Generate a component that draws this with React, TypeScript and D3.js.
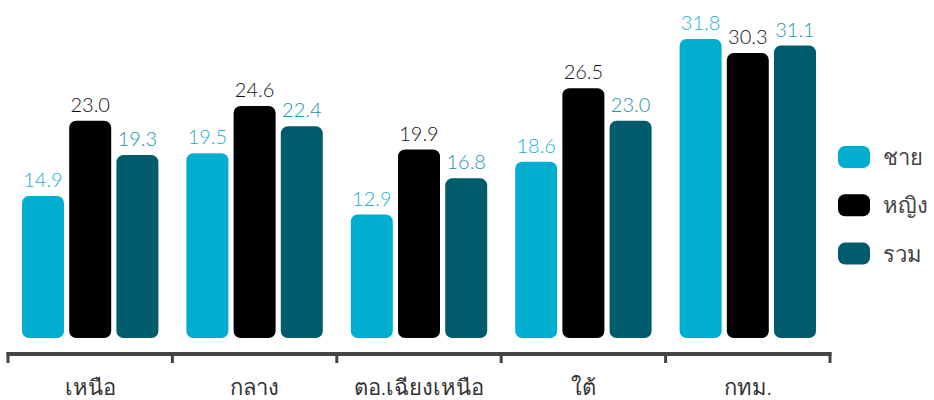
import React from "react";
import * as d3 from "d3";

const categories = ["เหนือ", "กลาง", "ตอ.เฉียงเหนือ", "ใต้", "กทม."];
const seriesNames = ["ชาย", "หญิง", "รวม"];
const male = [14.9, 19.5, 12.9, 18.6, 31.8];
const female = [23.0, 24.6, 19.9, 26.5, 30.3];
const total = [19.3, 22.4, 16.8, 23.0, 31.1];
const seriesValues = [male, female, total];
const barColors = ["#00AECF", "#000000", "#005B6C"];
const labelColors = ["#1AAFD2", "#111111", "#2295A8"];

const W = 934;
const H = 400;

export default function App() {
  const x = d3.scaleBand<string>().domain(categories).range([8, 830]).padding(0);
  const inner = d3
    .scaleBand<string>()
    .domain(seriesNames)
    .range([14, x.bandwidth() - 14])
    .paddingInner(0.11)
    .paddingOuter(0);
  const y = d3.scaleLinear().domain([0, 36]).range([334.4, 0]);
  const barBottom = 338;
  const valueFont = "'Lato', 'Noto Sans', sans-serif";
  const thaiFont = "'Noto Sans', 'DejaVu Sans', sans-serif";
  const ticks = [...categories.map((c) => x(c)!), x.range()[1]];

  return (
    <svg
      width={W}
      height={H}
      style={{ position: "absolute", left: 0, top: 0, background: "#fff" }}
    >
      {categories.map((c, ci) => (
        <g key={c} transform={`translate(${x(c)},0)`}>
          {seriesNames.map((s, si) => {
            const v = seriesValues[si][ci];
            const bx = inner(s)!;
            const top = y(v);
            return (
              <g key={s}>
                <rect
                  x={bx}
                  y={top}
                  width={inner.bandwidth()}
                  height={barBottom - top}
                  rx={7}
                  ry={7}
                  fill={barColors[si]}
                />
                <text
                  x={bx + inner.bandwidth() / 2}
                  y={top - 9}
                  textAnchor="middle"
                  fontFamily={valueFont}
                  fontWeight={300}
                  fontSize={20}
                  fill={labelColors[si]}
                >
                  {v.toFixed(1)}
                </text>
              </g>
            );
          })}
          <text
            x={x.bandwidth() / 2}
            y={395}
            textAnchor="middle"
            fontFamily={thaiFont}
            fontWeight={300}
            fontSize={22}
            fill="#333"
          >
            {c}
          </text>
        </g>
      ))}
      <line x1={ticks[0] - 1.5} x2={ticks[ticks.length - 1] + 1.5} y1={354} y2={354} stroke="#444" strokeWidth={4} />
      {ticks.map((t, i) => (
        <line key={i} x1={t} x2={t} y1={352} y2={363} stroke="#444" strokeWidth={3} />
      ))}
      {seriesNames.map((s, si) => (
        <g key={s} transform={`translate(838,${146 + si * 48.3})`}>
          <rect width={32} height={22} rx={7} ry={7} fill={barColors[si]} />
          <text x={45} y={19} fontFamily={thaiFont} fontWeight={300} fontSize={22} fill="#444">
            {s}
          </text>
        </g>
      ))}
    </svg>
  );
}
